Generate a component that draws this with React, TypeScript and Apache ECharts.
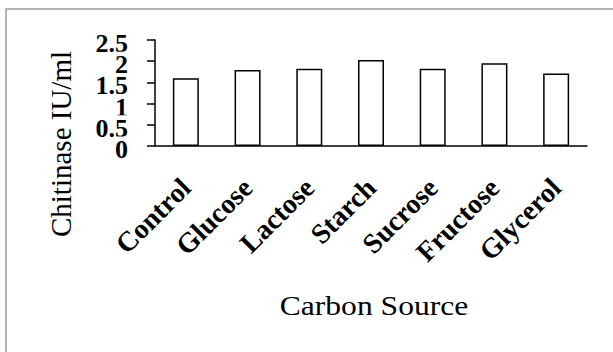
import React, { useEffect, useRef } from "react";
import * as echarts from "echarts";

const categories = ["Control", "Glucose", "Lactose", "Starch", "Sucrose", "Fructose", "Glycerol"];
const chitinaseValues = [1.6, 1.79, 1.82, 2.03, 1.82, 1.95, 1.71];
const yTicks = [0, 0.5, 1, 1.5, 2, 2.5];
const yTickLabels = ["0", "0.5", "1", "1.5", "2", "2.5"];
const yAxisTitle = "Chitinase IU/ml";
const xAxisTitle = "Carbon Source";

const SERIF = "'Liberation Serif', 'Times New Roman', serif";

export default function App() {
  const ref = useRef<HTMLDivElement>(null);
  useEffect(() => {
    if (!ref.current) return;
    const chart = echarts.init(ref.current, null, { renderer: "svg" });
    chart.setOption({
      animation: false,
      backgroundColor: "#ffffff",
      grid: { left: 155, right: 26, top: 40, bottom: 206 },
      xAxis: {
        type: "category",
        data: categories,
        axisLine: { lineStyle: { color: "#000", width: 1.5 } },
        axisTick: { show: false },
        axisLabel: {
          rotate: 45,
          interval: 0,
          margin: 37,
          color: "#000",
          fontFamily: SERIF,
          fontWeight: "bold",
          fontSize: 28,
        },
      },
      yAxis: {
        type: "value",
        min: yTicks[0],
        max: yTicks[yTicks.length - 1],
        interval: 0.5,
        splitLine: { show: false },
        axisLine: { show: true, lineStyle: { color: "#000", width: 1.5 } },
        axisTick: { show: true, length: 8, lineStyle: { color: "#000", width: 1.5 } },
        axisLabel: { show: false },
      },
      series: [
        {
          type: "bar",
          data: chitinaseValues,
          barWidth: 26,
          itemStyle: { color: "#ffffff", borderColor: "#000", borderWidth: 1.5 },
        },
      ],
    });

    // Y tick labels drawn top-to-bottom so each lower label's opaque box overlaps the one above
    const tickTexts = yTicks
      .map((v, i) => ({ v, label: yTickLabels[i] }))
      .reverse()
      .map(({ v, label }) => {
        const py = chart.convertToPixel({ yAxisIndex: 0 }, v) as number;
        return {
          type: "text",
          x: 128,
          y: py + 3.5,
          z: 10,
          style: {
            text: label,
            fontFamily: SERIF,
            fontWeight: "bold",
            fontSize: 26,
            lineHeight: 26,
            fill: "#000",
            backgroundColor: "#ffffff",
            textAlign: "right",
            textVerticalAlign: "middle",
          },
        };
      });

    chart.setOption({
      graphic: [
        {
          type: "rect",
          shape: { x: 6, y: 9, width: 640, height: 380 },
          style: { fill: "none", stroke: "#9a9a9a", lineWidth: 1.5 },
          silent: true,
          z: -1,
        },
        {
          type: "text",
          x: 61,
          y: 144,
          rotation: Math.PI / 2,
          style: {
            text: yAxisTitle,
            fontFamily: SERIF,
            fontSize: 29,
            fill: "#000",
            textAlign: "center",
            textVerticalAlign: "middle",
          },
        },
        {
          type: "text",
          x: 374,
          y: 306,
          scaleX: 1.17,
          style: {
            text: xAxisTitle,
            fontFamily: SERIF,
            fontSize: 27,
            fill: "#000",
            textAlign: "center",
            textVerticalAlign: "middle",
          },
        },
        ...tickTexts,
      ],
    });
    return () => chart.dispose();
  }, []);
  return (
    <div
      ref={ref}
      style={{ position: "absolute", left: 0, top: 0, width: 613, height: 352 }}
    />
  );
}
